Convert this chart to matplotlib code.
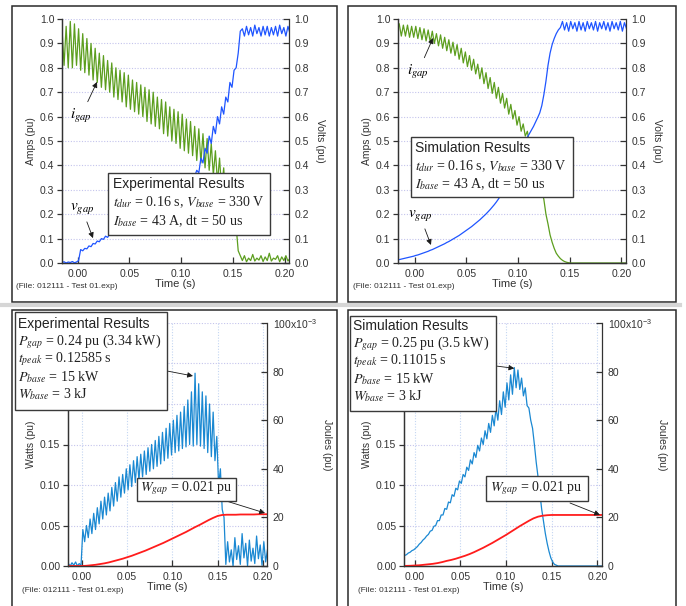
import numpy as np
import matplotlib.pyplot as plt
from matplotlib.patches import Rectangle
from matplotlib.lines import Line2D
from matplotlib.ticker import MultipleLocator, FuncFormatter

plt.rcParams['font.family'] = ['Liberation Sans', 'DejaVu Sans']
plt.rcParams['mathtext.fontset'] = 'stix'

# ---- data ----
# ripple curves, sampled every 2 ms from -0.015 s to 0.205 s
t_ripple = np.linspace(-0.015, 0.205, 111)
# energy curves, sampled every 5 ms
t_energy = np.linspace(-0.015, 0.205, 45)

i_gap_exp = [0.96, 0.81, 0.97, 0.80, 0.99, 0.80, 0.98, 0.81, 0.96, 0.79,
             0.94, 0.78, 0.92, 0.77, 0.90, 0.75, 0.88, 0.74, 0.86, 0.72,
             0.85, 0.71, 0.83, 0.70, 0.82, 0.68, 0.80, 0.67, 0.79, 0.66,
             0.78, 0.64, 0.77, 0.63, 0.75, 0.62, 0.74, 0.61, 0.73, 0.60,
             0.72, 0.58, 0.71, 0.57, 0.70, 0.56, 0.68, 0.55, 0.67, 0.53,
             0.66, 0.52, 0.64, 0.50, 0.63, 0.49, 0.62, 0.47, 0.61, 0.46,
             0.59, 0.45, 0.58, 0.44, 0.56, 0.42, 0.55, 0.41, 0.53, 0.39,
             0.51, 0.38, 0.49, 0.36, 0.46, 0.33, 0.43, 0.30, 0.39, 0.25,
             0.33, 0.20, 0.26, 0.13, 0.15, 0.05, 0.03, 0.01, 0.03, 0.005,
             0.02, 0.01, 0.035, 0.008, 0.02, 0.012, 0.03, 0.006, 0.025, 0.01,
             0.04, 0.008, 0.02, 0.015, 0.03, 0.005, 0.025, 0.01, 0.03, 0.008,
             0.02]
v_gap_exp = [0.002, 0.005, 0.0, 0.004, 0.002, 0.006, 0.001, 0.004, 0.01, 0.055,
             0.05, 0.06, 0.058, 0.07, 0.067, 0.08, 0.078, 0.09, 0.087, 0.10,
             0.097, 0.11, 0.105, 0.118, 0.114, 0.125, 0.128, 0.14, 0.137, 0.15,
             0.147, 0.16, 0.157, 0.17, 0.167, 0.18, 0.177, 0.19, 0.187, 0.20,
             0.197, 0.21, 0.207, 0.22, 0.217, 0.23, 0.227, 0.24, 0.237, 0.25,
             0.247, 0.26, 0.257, 0.27, 0.267, 0.28, 0.277, 0.29, 0.29, 0.31,
             0.31, 0.33, 0.33, 0.35, 0.355,
             0.38, 0.37, 0.43, 0.41, 0.47, 0.45, 0.52, 0.49, 0.56, 0.53,
             0.60, 0.57, 0.64, 0.61, 0.68, 0.66, 0.74, 0.72, 0.79, 0.80,
             0.86, 0.95,
             0.96, 0.93, 0.97, 0.935, 0.965, 0.93, 0.975, 0.94, 0.965, 0.93,
             0.97, 0.935, 0.97, 0.93, 0.965, 0.935, 0.97, 0.93, 0.975, 0.94,
             0.965, 0.93, 0.97, 0.94]

i_gap_sim = [0.98, 0.93, 0.975, 0.93, 0.975, 0.925, 0.97, 0.925, 0.97, 0.92,
             0.965, 0.915, 0.96, 0.91, 0.955, 0.905, 0.95, 0.90, 0.94, 0.89,
             0.935, 0.88, 0.925, 0.87, 0.915, 0.86, 0.905, 0.85, 0.895, 0.835,
             0.88, 0.82, 0.865, 0.805, 0.85, 0.79, 0.835, 0.775, 0.815, 0.755,
             0.80, 0.735, 0.78, 0.715, 0.76, 0.695, 0.74, 0.675, 0.72, 0.655,
             0.695, 0.635, 0.675, 0.61, 0.65, 0.59, 0.625, 0.565, 0.60, 0.54,
             0.57, 0.52, 0.54, 0.49, 0.50, 0.45, 0.44, 0.39, 0.36, 0.30,
             0.26, 0.20, 0.16, 0.115, 0.085, 0.06, 0.04, 0.028, 0.018, 0.011,
             0.006, 0.003, 0.001] + [0.0] * 28
v_gap_sim = [0.014, 0.016, 0.018, 0.020, 0.022, 0.024, 0.026, 0.028, 0.031, 0.033,
             0.036, 0.039, 0.042, 0.045, 0.048, 0.052, 0.055, 0.059, 0.063, 0.067,
             0.071, 0.075, 0.079, 0.084, 0.088, 0.093, 0.098, 0.103, 0.108, 0.113,
             0.119, 0.125, 0.131, 0.137, 0.143, 0.149, 0.156, 0.163, 0.170, 0.177,
             0.185, 0.193, 0.201, 0.210, 0.219, 0.229, 0.239, 0.250, 0.262, 0.275,
             0.29, 0.309, 0.328, 0.347, 0.366, 0.385, 0.404, 0.423, 0.442, 0.461,
             0.48, 0.50, 0.515, 0.53, 0.545, 0.56, 0.578, 0.596, 0.615, 0.645,
             0.69, 0.745, 0.81, 0.86, 0.895, 0.92, 0.94, 0.955, 0.965,
             0.99, 0.955, 0.985, 0.95, 0.99, 0.96, 0.985, 0.95, 0.99, 0.955,
             0.985, 0.95, 0.99, 0.96, 0.985, 0.955, 0.99, 0.95, 0.985, 0.96,
             0.99, 0.955, 0.985, 0.95, 0.99, 0.96, 0.985, 0.955, 0.99, 0.95,
             0.985, 0.96]

p_gap_exp = [0.003, 0.0, 0.004, 0.001, 0.005, 0.0, 0.003, 0.001, 0.045, 0.03,
             0.05, 0.035, 0.058, 0.04, 0.065, 0.045, 0.072, 0.052, 0.08, 0.058,
             0.085, 0.063, 0.09, 0.068, 0.097, 0.074, 0.103, 0.08, 0.11, 0.085,
             0.113, 0.09, 0.12, 0.094, 0.125, 0.098, 0.13, 0.103, 0.135, 0.106,
             0.138, 0.11, 0.142, 0.113, 0.146, 0.117, 0.15, 0.12, 0.155, 0.123,
             0.16, 0.126, 0.165, 0.13, 0.17, 0.133, 0.176, 0.137, 0.18, 0.14,
             0.186, 0.142, 0.19, 0.145, 0.197, 0.147, 0.205, 0.15, 0.215, 0.148,
             0.238, 0.15, 0.225, 0.148, 0.215, 0.145, 0.21, 0.14, 0.2, 0.135,
             0.19, 0.13, 0.16, 0.1, 0.12, 0.07, 0.06, 0.002, 0.03, 0.005,
             0.02, 0.0, 0.035, 0.008, 0.025, 0.002, 0.04, 0.01, 0.028, 0.0,
             0.032, 0.006, 0.022, 0.003, 0.037, 0.009, 0.026, 0.001, 0.03, 0.005,
             0.02]
w_gap_exp = [0.0, 0.0, 0.0, 0.0, 0.0001, 0.0003, 0.0005, 0.0008, 0.0011, 0.0015,
             0.0020, 0.0025, 0.0030, 0.0036, 0.0042, 0.0049, 0.0056, 0.0063, 0.0071, 0.0079,
             0.0087, 0.0095, 0.0104, 0.0113, 0.0122, 0.0131, 0.0140, 0.0150, 0.0160, 0.0169,
             0.0179, 0.0189, 0.0198, 0.0206, 0.0210, 0.0211, 0.0211, 0.0211, 0.0212, 0.0212,
             0.0212, 0.0212, 0.0213, 0.0213, 0.0213]

p_gap_sim = [0.011, 0.012, 0.013, 0.014, 0.016, 0.017, 0.019, 0.020, 0.022, 0.024,
             0.027, 0.029, 0.032, 0.034, 0.037, 0.039, 0.043, 0.044, 0.049, 0.05,
             0.056, 0.056, 0.063, 0.063, 0.071, 0.07, 0.079, 0.078, 0.088, 0.086,
             0.096, 0.094, 0.105, 0.102, 0.113, 0.11, 0.122, 0.118, 0.131, 0.126,
             0.14, 0.134, 0.149, 0.142, 0.158, 0.15, 0.167, 0.157, 0.176, 0.165,
             0.186, 0.173, 0.195, 0.18, 0.204, 0.187, 0.215, 0.196, 0.226, 0.205,
             0.236, 0.212, 0.245, 0.22, 0.242, 0.218, 0.232, 0.21, 0.22, 0.198,
             0.195, 0.18, 0.17, 0.15, 0.128, 0.11, 0.09, 0.07, 0.055, 0.04,
             0.028, 0.018, 0.01, 0.005, 0.002, 0.001] + [0.0] * 25
w_gap_sim = [0.0, 0.00005, 0.0001, 0.0002, 0.0003, 0.0005, 0.0007, 0.0009, 0.0012, 0.0016,
             0.0021, 0.0025, 0.0030, 0.0036, 0.0042, 0.0049, 0.0057, 0.0066, 0.0075, 0.0085,
             0.0095, 0.0106, 0.0117, 0.0128, 0.0140, 0.0152, 0.0164, 0.0175, 0.0186, 0.0196,
             0.0203, 0.0207, 0.0209, 0.0210] + [0.0210] * 11

GREEN = '#5c9e1e'
BLUE = '#1f55ff'
PBLUE = '#1a88d2'
RED = '#ff1c1c'
GRID = '#c4c4ec'
INK = '#333333'

W, H = 686, 606
fig = plt.figure(figsize=(W / 100, H / 100), dpi=100)


def rect(x0, y0, x1, y1):
    return [x0 / W, 1 - y1 / H, (x1 - x0) / W, (y1 - y0) / H]


def make_axes(pos, xlim, ylim_l, step_l, fmt_l, ylim_r, step_r, fmt_r,
              label_l, label_r, xgrid):
    ax = fig.add_axes(rect(*pos))
    ax2 = ax.twinx()
    ax.set_xlim(xlim)
    ax.set_ylim(ylim_l)
    ax2.set_ylim(ylim_r)
    for a in (ax, ax2):
        a.spines['top'].set_visible(False)
        for s in a.spines.values():
            s.set_color(INK)
            s.set_linewidth(0.9)
    ax.spines['right'].set_visible(False)
    ax.xaxis.set_major_locator(MultipleLocator(0.05))
    ax.xaxis.set_major_formatter(FuncFormatter(lambda v, p: f'{round(v, 6) + 0.0:.2f}'))
    ax.yaxis.set_major_locator(MultipleLocator(step_l))
    ax.yaxis.set_major_formatter(FuncFormatter(fmt_l))
    ax2.yaxis.set_major_locator(MultipleLocator(step_r))
    ax2.yaxis.set_major_formatter(FuncFormatter(fmt_r))
    ax.tick_params(axis='x', direction='in', length=4, width=0.9, pad=4,
                   labelsize=7.5, colors=INK)
    ax.tick_params(axis='y', direction='out', length=3.5, width=0.9, pad=2,
                   labelsize=7.5, colors=INK)
    ax2.tick_params(axis='y', direction='in', length=4, width=0.9, pad=4,
                    labelsize=7.5, colors=INK)
    ax.yaxis.grid(True, color=GRID, ls=(0, (1, 1.5)), lw=0.8)
    if xgrid:
        ax.xaxis.grid(True, color='#c4d6f2', ls=(0, (1, 1.5)), lw=0.8)
    ax.set_axisbelow(True)
    ax.set_xlabel('Time (s)', fontsize=8, labelpad=0, color=INK)
    ax.set_ylabel(label_l, fontsize=7.5, labelpad=3, color=INK)
    ax2.set_ylabel(label_r, fontsize=7.5, labelpad=4, rotation=270, va='bottom', color=INK)
    return ax, ax2


def fmt1(v, p):
    return f'{round(v, 6) + 0.0:.1f}'


def fmt_watt(v, p):
    # labels above 0.15 sit under the results box in the reference
    if v > 0.17:
        return ''
    return f'{round(v, 6) + 0.0:.2f}'


def fmt_joule(v, p):
    if abs(v - 0.1) < 1e-9:
        return r'100x10$^{\mathregular{-3}}$'
    return f'{v * 1000:.0f}'


def info_box(x0, y0, x1, y1, header, lines, xt, y_first, dy):
    fig.add_artist(Rectangle((x0 / W, 1 - y1 / H), (x1 - x0) / W, (y1 - y0) / H,
                             transform=fig.transFigure, facecolor='white',
                             edgecolor='#3a3a3a', lw=1.0, zorder=10))
    y = y_first
    if header:
        fig.text(xt / W, 1 - y / H, header, fontsize=10, va='center', ha='left',
                 color='#222222', zorder=11)
        y += dy
    for ln in lines:
        fig.text(xt / W, 1 - y / H, ln, fontsize=10.1, va='center', ha='left',
                 family='Liberation Serif', color='#222222', zorder=11)
        y += dy


def frame(x0, y0, x1, y1):
    fig.add_artist(Rectangle((x0 / W, 1 - y1 / H), (x1 - x0) / W, (y1 - y0) / H,
                             transform=fig.transFigure, fill=False,
                             edgecolor='#2a2a2a', lw=1.1, zorder=1))


arrow = dict(arrowstyle='-|>', color='#1a1a1a', lw=0.6, mutation_scale=8,
             shrinkA=2, shrinkB=0)

# panel frames and separator
frame(12, 6, 337, 302)
frame(348, 6, 676, 302)
frame(12, 310, 337, 640)
frame(348, 310, 676, 640)
fig.add_artist(Line2D([0, 680 / W], [1 - 305 / H] * 2, color='#d6d6d6', lw=3,
                      transform=fig.transFigure, zorder=1))

# ---- top left: experimental current / voltage ----
ax, ax2 = make_axes((62, 19, 289, 263), (-0.015, 0.204), (0, 1.0), 0.1, fmt1,
                    (0, 1.0), 0.1, fmt1, 'Amps (pu)', 'Volts (pu)', False)
ax.plot(t_ripple, i_gap_exp, color=GREEN, lw=0.9)
ax2.plot(t_ripple, v_gap_exp, color=BLUE, lw=0.9)
ax.annotate(r'$i_{gap}$', xy=(0.0188, 0.742), xytext=(81, H - 116),
            textcoords='figure pixels', ha='center', va='center', fontsize=11,
            arrowprops=arrow)
ax.annotate(r'$v_{gap}$', xy=(0.0149, 0.102), xytext=(82, H - 209),
            textcoords='figure pixels', ha='center', va='center', fontsize=11,
            arrowprops=arrow)
info_box(108, 173, 270, 235, 'Experimental Results',
         [r'$t_{dur}$ = 0.16 s, $V_{base}$ = 330 V', r'$I_{base}$ = 43 A, dt = 50 us'],
         113, 184, 18.5)
fig.text(16 / W, 1 - 287 / H, '(File: 012111 - Test 01.exp)', fontsize=6,
         va='center', color=INK)

# ---- top right: simulated current / voltage ----
ax, ax2 = make_axes((398, 19, 626, 263), (-0.0162, 0.2045), (0, 1.0), 0.1, fmt1,
                    (0, 1.0), 0.1, fmt1, 'Amps (pu)', 'Volts (pu)', False)
ax.plot(t_ripple, i_gap_sim, color=GREEN, lw=0.9)
ax2.plot(t_ripple, v_gap_sim, color=BLUE, lw=0.9)
ax.annotate(r'$i_{gap}$', xy=(0.0177, 0.922), xytext=(418, H - 72),
            textcoords='figure pixels', ha='center', va='center', fontsize=11,
            arrowprops=arrow)
ax.annotate(r'$v_{gap}$', xy=(0.0157, 0.074), xytext=(420, H - 216),
            textcoords='figure pixels', ha='center', va='center', fontsize=11,
            arrowprops=arrow)
info_box(411, 137, 573, 197, 'Simulation Results',
         [r'$t_{dur}$ = 0.16 s, $V_{base}$ = 330 V', r'$I_{base}$ = 43 A, dt = 50 us'],
         415, 148, 18)
fig.text(353 / W, 1 - 287 / H, '(File: 012111 - Test 01.exp)', fontsize=6,
         va='center', color=INK)

# ---- bottom left: experimental power / energy ----
ax, ax2 = make_axes((68, 323, 267, 566), (-0.0154, 0.2045), (0, 0.3), 0.05, fmt_watt,
                    (0, 0.1), 0.02, fmt_joule, 'Watts (pu)', 'Joules (pu)', True)
ax.plot(t_ripple, p_gap_exp, color=PBLUE, lw=0.9)
ax2.plot(t_energy, w_gap_exp, color=RED, lw=1.3)
ax.annotate('', xy=(0.1227, 0.2346), xytext=(167, H - 371),
            textcoords='figure pixels', arrowprops=dict(arrow, shrinkA=0))
ax2.annotate('', xy=(0.2023, 0.0218), xytext=(223, H - 500),
             textcoords='figure pixels', arrowprops=dict(arrow, shrinkA=0))
info_box(15, 312, 167, 410, 'Experimental Results',
         [r'$P_{gap}$ = 0.24 pu (3.34 kW)', r'$t_{peak}$ = 0.12585 s',
          r'$P_{base}$ = 15 kW', r'$W_{base}$ = 3 kJ'], 18, 324, 17.6)
info_box(137, 478, 236, 501, None, [r'$W_{gap}$ = 0.021 pu'], 140, 488, 18)
fig.text(22 / W, 1 - 590 / H, '(File: 012111 - Test 01.exp)', fontsize=6,
         va='center', color=INK)

# ---- bottom right: simulated power / energy ----
ax, ax2 = make_axes((404, 323, 602, 566), (-0.0117, 0.205), (0, 0.3), 0.05, fmt_watt,
                    (0, 0.1), 0.02, fmt_joule, 'Watts (pu)', 'Joules (pu)', True)
ax.plot(t_ripple, p_gap_sim, color=PBLUE, lw=0.9)
ax2.plot(t_energy, w_gap_sim, color=RED, lw=1.3)
ax.annotate('', xy=(0.109, 0.244), xytext=(496, H - 366),
            textcoords='figure pixels', arrowprops=dict(arrow, shrinkA=0))
ax2.annotate('', xy=(0.2028, 0.021), xytext=(570, H - 503),
             textcoords='figure pixels', arrowprops=dict(arrow, shrinkA=0))
info_box(350, 316, 496, 411, 'Simulation Results',
         [r'$P_{gap}$ = 0.25 pu (3.5 kW)', r'$t_{peak}$ = 0.11015 s',
          r'$P_{base}$ = 15 kW', r'$W_{base}$ = 3 kJ'], 353, 326, 17.6)
info_box(486, 476, 588, 501, None, [r'$W_{gap}$ = 0.021 pu'], 490, 488, 18)
fig.text(358 / W, 1 - 590 / H, '(File: 012111 - Test 01.exp)', fontsize=6,
         va='center', color=INK)

fig.savefig('out.png', dpi=100)
